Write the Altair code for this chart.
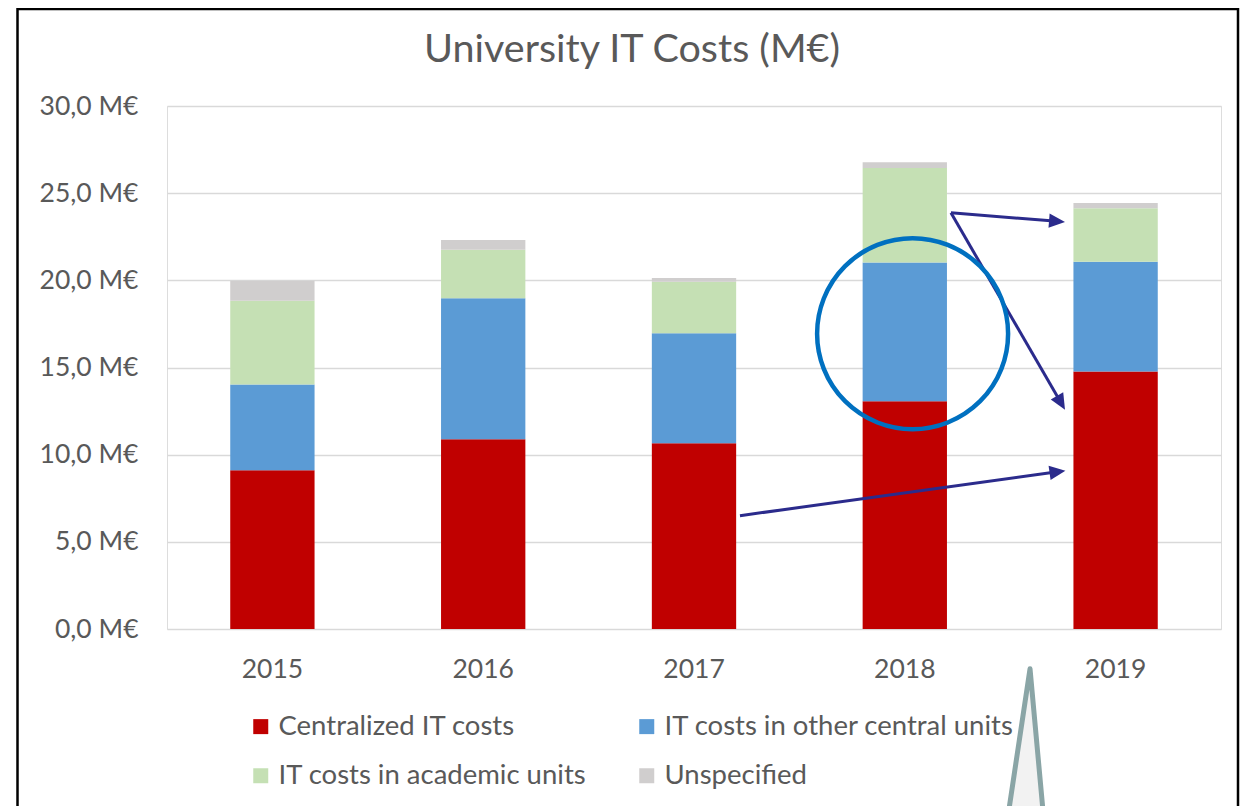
import math
import altair as alt
import pandas as pd

# ---------------- data ----------------
years = ["2015", "2016", "2017", "2018", "2019"]
series = [
    "Centralized IT costs",
    "IT costs in other central units",
    "IT costs in academic units",
    "Unspecified",
]
centralized = [9.10, 10.88, 10.65, 13.06, 14.77]
other_central = [4.92, 8.09, 6.32, 7.97, 6.30]
academic = [4.81, 2.78, 2.95, 5.41, 3.07]
unspecified = [1.15, 0.57, 0.21, 0.34, 0.30]
colors = ["#C00000", "#5B9BD5", "#C5E0B4", "#D0CECE"]
y_ticks = [0, 5, 10, 15, 20, 25, 30]

# annotations, in (band position, M€) units; the band of year i spans [i, i+1]
arrow_x1 = [3.719, 3.719, 2.718]
arrow_y1 = [23.87, 23.87, 6.50]
arrow_x2 = [4.260, 4.260, 4.262]
arrow_y2 = [23.35, 12.58, 9.08]
circle_x = [3.537]
circle_y = [16.94]
callout_x = [4.094]
callout_y = [-6.90]

# ---------------- layout ----------------
W, H = 1054, 523
PL, PT, PR, PB = 159, 98, 19, 177
PX_X = W / 5.0
PX_Y = H / 30.0
FONT = "Lato"
TXT = "#595959"
NAVY = "#2B2B8C"

rows = []
for i, yr in enumerate(years):
    for k, vals in enumerate([centralized, other_central, academic, unspecified]):
        rows.append({"year": yr, "series": series[k], "order": k, "value": vals[i]})
df = pd.DataFrame(rows)

bars = alt.Chart(df).mark_bar().encode(
    x=alt.X(
        "year:N",
        title=None,
        scale=alt.Scale(paddingInner=0.6, paddingOuter=0.3),
        axis=alt.Axis(labelAngle=0, domain=False, ticks=False, grid=False,
                      labelPadding=27, labelFontSize=26.5, labelColor=TXT, labelFont=FONT),
    ),
    y=alt.Y(
        "value:Q",
        stack="zero",
        title=None,
        scale=alt.Scale(domain=[0, 30], nice=False),
        axis=alt.Axis(values=y_ticks, domain=False, ticks=False, labelPadding=29,
                      labelExpr="replace(format(datum.value, '.1f'), '.', ',') + ' M€'",
                      gridColor="#D9D9D9", gridWidth=1.5, labelFontSize=26.5,
                      labelColor=TXT, labelFont=FONT),
    ),
    color=alt.Color(
        "series:N",
        scale=alt.Scale(domain=series, range=colors),
        legend=alt.Legend(title=None, orient="none", legendX=80, legendY=606.5,
                          direction="horizontal", columns=2, symbolType="square",
                          symbolSize=225, symbolStrokeWidth=0, labelFontSize=27.5,
                          labelColor=TXT, labelFont=FONT, labelOffset=4,
                          columnPadding=46, rowPadding=20.5, padding=0, labelLimit=500),
    ),
    order=alt.Order("order:Q", sort="ascending"),
)


def qx(f):
    return alt.X(f, scale=alt.Scale(domain=[0, 5], nice=False, zero=False), axis=None)


def qy(f):
    return alt.Y(f, scale=alt.Scale(domain=[0, 30], nice=False, zero=False), axis=None)


# arrows
ex, ey, ang = [], [], []
for x1, y1, x2, y2 in zip(arrow_x1, arrow_y1, arrow_x2, arrow_y2):
    dxp = (x2 - x1) * PX_X
    dyp = -(y2 - y1) * PX_Y
    L = math.hypot(dxp, dyp)
    ex.append(x2 - 8 * dxp / L / PX_X)
    ey.append(y2 + 8 * dyp / L / PX_Y)
    ang.append(math.degrees(math.atan2(dyp, dxp)) % 360)
arr = pd.DataFrame({"x1": arrow_x1, "y1": arrow_y1, "ex": ex, "ey": ey,
                    "tx": arrow_x2, "ty": arrow_y2, "angle": ang})

arrow_lines = alt.Chart(arr).mark_rule(color=NAVY, strokeWidth=3).encode(
    x=qx("x1:Q"), y=qy("y1:Q"), x2="ex:Q", y2="ey:Q")
arrow_heads = alt.Chart(arr).mark_point(
    shape="M0,0L-2,-0.9L-2,0.9Z", filled=True, size=256, color=NAVY, opacity=1
).encode(x=qx("tx:Q"), y=qy("ty:Q"), angle=alt.Angle("angle:Q", scale=None))

circle = alt.Chart(pd.DataFrame({"x": circle_x, "y": circle_y})).mark_point(
    shape="circle", filled=False, size=36481, color="#0070C0", strokeWidth=4.5, opacity=1
).encode(x=qx("x:Q"), y=qy("y:Q"))

callout = alt.Chart(pd.DataFrame({"x": callout_x, "y": callout_y})).mark_point(
    shape="M0,-1L-0.2994,1L0.1826,1Z", filled=True, fill="#F2F2F2", stroke="#8AA5A6",
    strokeWidth=5, strokeJoin="round", size=25921, opacity=1
).encode(x=qx("x:Q"), y=qy("y:Q"))

dummy = pd.DataFrame({"a": [0]})
frame = alt.Chart(dummy).mark_rect(fillOpacity=0, stroke="black", strokeWidth=2.5).encode(
    x=alt.value(-149.5), x2=alt.value(1071), y=alt.value(-97), y2=alt.value(800))

chart = alt.layer(bars, arrow_lines, arrow_heads, circle, callout, frame).resolve_scale(
    x="independent", y="independent"
).properties(
    width=W,
    height=H,
    padding={"left": PL, "top": PT, "right": PR, "bottom": PB},
    autosize=alt.AutoSizeParams(type="none"),
    title=alt.TitleParams("University IT Costs (M€)", fontSize=39.5, color=TXT,
                          fontWeight="normal", anchor="middle", offset=0, dx=-62, dy=63,
                          font=FONT),
).configure_view(stroke=None).configure(font=FONT)

chart.save("out.html", embed_options={"renderer": "svg", "actions": False})
